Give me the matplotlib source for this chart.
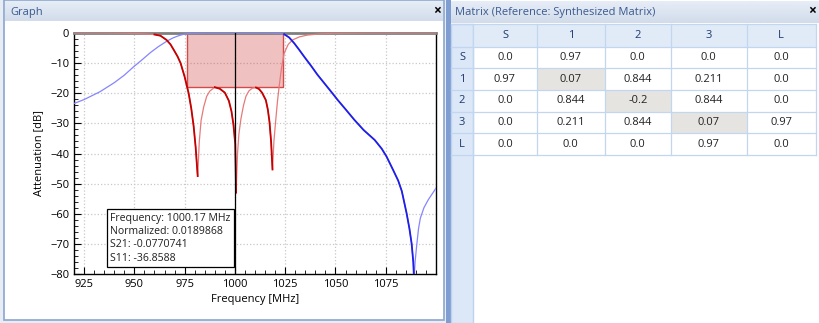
import numpy as np
import matplotlib
matplotlib.use("Agg")
import matplotlib.pyplot as plt
from matplotlib.patches import Rectangle
from matplotlib.ticker import MultipleLocator

plt.rcParams['font.family'] = ['Open Sans', 'DejaVu Sans']

# === data ===
s11_freq = [920, 935, 945, 952, 957, 960, 963, 966, 968, 969.6, 971.5, 973, 975, 977,
            978.3, 979.5, 980.5, 981.5, 982.3, 983.2, 984.5, 986, 987.5, 990, 992.5,
            995, 997, 998.3, 999.3, 1000.17, 1000.6, 1001.3, 1002, 1003, 1004.3, 1005.5,
            1007, 1008.7, 1010.5, 1012, 1013.5, 1015.4, 1016.4, 1017.2, 1018, 1018.7,
            1019.4, 1020.3, 1021.2, 1022, 1023.2, 1024.5, 1026.5, 1028.7, 1032, 1036,
            1042, 1050, 1065, 1100]
s11_db = [0, -0.02, -0.08, -0.2, -0.35, -0.5, -0.9, -2.3, -3.8, -5.6, -7.8, -10, -14.5, -20,
          -25, -31, -38, -47.5, -36, -29, -24.5, -21, -19.3, -18, -18.5,
          -19.8, -22.5, -26, -30.5, -36.86, -53, -40, -33.5, -28.5, -24, -21,
          -19.2, -18.3, -18.1, -18.6, -19.8, -22.3, -25.5, -29.5, -36, -45.3,
          -36, -29, -22.5, -17.8, -11.5, -6.7, -3.8, -2.3, -1.3, -0.7,
          -0.3, -0.12, -0.04, 0]

s21_freq = [920, 925, 932.9, 940, 945, 949.5, 954, 958, 962, 966.2, 969, 971.2, 973.5,
            975.4, 978, 985, 1000.17, 1015, 1022, 1024.5, 1027, 1029.5, 1032, 1034.5,
            1038, 1041, 1044.5, 1048, 1051.2, 1055, 1059.5, 1064, 1069.5, 1073, 1075.4,
            1078.7, 1081.2, 1083, 1085.4, 1086.8, 1087.9, 1088.7, 1089.1, 1089.6, 1090.4,
            1091.3, 1092.2, 1094, 1096.2, 1098.5, 1100.5]
s21_db = [-23.4, -22.1, -19.5, -16.5, -14, -11.3, -8.8, -6.5, -4.5, -2.7, -1.7, -1.1, -0.6,
          -0.3, -0.15, -0.08, -0.077, -0.08, -0.15, -0.4, -1.5, -3.4, -5.6, -7.9,
          -11, -13.8, -16.7, -19.6, -22.3, -25.3, -28.9, -32.2, -35.5, -38.4, -41,
          -45.5, -49, -52.5, -59.9, -65, -70, -76, -82, -76, -70.5,
          -65, -61.5, -58, -55.3, -53, -51]

mask_freq = [976, 1024]
mask_db = -18
cursor_freq = 1000.17
readout = ["Frequency: 1000.17 MHz", "Normalized: 0.0189868",
           "S21: -0.0770741", "S11: -36.8588"]

port_labels = ["S", "1", "2", "3", "L"]
coupling = [[0.0, 0.97, 0.0, 0.0, 0.0],
            [0.97, 0.07, 0.844, 0.211, 0.0],
            [0.0, 0.844, -0.2, 0.844, 0.0],
            [0.0, 0.211, 0.844, 0.07, 0.97],
            [0.0, 0.0, 0.0, 0.97, 0.0]]

W, H = 820, 323
fig = plt.figure(figsize=(W / 100, H / 100), dpi=100)
fig.patch.set_facecolor('#e8edf4')

# background canvas in pixel coords
bg = fig.add_axes([0, 0, 1, 1], zorder=0)
bg.set_xlim(0, W)
bg.set_ylim(H, 0)
bg.axis('off')

grad = np.linspace(0, 1, 20).reshape(-1, 1)
title_cmap = matplotlib.colors.LinearSegmentedColormap.from_list('t', ['#e6edf7', '#d2dcea'])

# === Graph panel ===
bg.add_patch(Rectangle((4, 0), 440, 320, facecolor='white', edgecolor='#8aa6d0', lw=1.2))
bg.imshow(grad, extent=(5, 443, 21, 1), cmap=title_cmap, aspect='auto', zorder=1)
bg.text(10, 12, "Graph", fontsize=8, color='#3b5a8f', va='center', zorder=2)
bg.text(437, 11, "×", fontsize=10, color='black', ha='center', va='center', fontweight='bold', zorder=2)

# === Matrix panel ===
bg.add_patch(Rectangle((447, 0), 373, 323, facecolor='white', edgecolor='none'))
bg.imshow(grad, extent=(449, 820, 23, 1), cmap=title_cmap, aspect='auto', zorder=1)
bg.text(455, 12, "Matrix (Reference: Synthesized Matrix)", fontsize=8, color='#3b5a8f',
        va='center', zorder=2)
bg.text(812, 11, "×", fontsize=10, color='black', ha='center', va='center', fontweight='bold', zorder=2)
bg.add_patch(Rectangle((446, 0), 5, 323, facecolor='#7f9dd0', edgecolor='none', zorder=2))
bg.add_patch(Rectangle((451, 24), 22, 299, facecolor='#dce8f8', edgecolor='#bcd2f2', lw=1, zorder=2))

col_edges = [473.3, 536.7, 605, 670.7, 746.7, 815.7]
row_edges = [24, 46.7, 68.3, 90, 111.7, 133.3, 155]
line_c = '#c3d6f0'

# header row
bg.add_patch(Rectangle((473.3, 24), 815.7 - 473.3, 22.7, facecolor='#e1ebf8', edgecolor='none', zorder=2))
for j, lab in enumerate(port_labels):
    xc = (col_edges[j] + col_edges[j + 1]) / 2
    bg.text(xc, 35.5, lab, fontsize=8, color='#1e3a6e', ha='center', va='center', zorder=4)
for i, lab in enumerate(port_labels):
    yc = (row_edges[i + 1] + row_edges[i + 2]) / 2
    bg.text(462, yc, lab, fontsize=8, color='#1e3a6e', ha='center', va='center', zorder=4)
    for j in range(len(port_labels)):
        x0, x1 = col_edges[j], col_edges[j + 1]
        if i == j and 0 < i < len(port_labels) - 1:
            bg.add_patch(Rectangle((x0, row_edges[i + 1]), x1 - x0, row_edges[i + 2] - row_edges[i + 1],
                                   facecolor='#e6e4e0', edgecolor='none', zorder=2))
        bg.text((x0 + x1) / 2, yc, str(coupling[i][j]), fontsize=8, color='#222222',
                ha='center', va='center', zorder=4)
for y in row_edges:
    bg.plot([451, 815.7], [y, y], color=line_c, lw=0.9, zorder=3)
for x in col_edges:
    bg.plot([x, x], [24, 155], color=line_c, lw=0.9, zorder=3)

# === response plot ===
ax = fig.add_axes([74 / W, 1 - 274 / H, 362 / W, 241 / H], zorder=5)
ax.set_xlim(920, 1100)
ax.set_ylim(-80, 0)

ax.add_patch(Rectangle((mask_freq[0], mask_db), mask_freq[1] - mask_freq[0], -mask_db,
                       facecolor=(0.8, 0.2, 0.2, 0.3), edgecolor='#d24a4a', lw=1, zorder=2))


def draw_trace(f, v, light, dark):
    f = np.asarray(f)
    v = np.asarray(v)
    ax.plot(f, v, color=light, lw=0.9, zorder=3)
    # descending stretches (off the 0 dB line) are drawn darker, as in the original
    down = (np.diff(v) < 0) & (v[1:] < -0.8)
    i = 0
    while i < len(down):
        if down[i]:
            j = i
            while j < len(down) and down[j]:
                j += 1
            ax.plot(f[i:j + 1], v[i:j + 1], color=dark, lw=1.3, zorder=4)
            i = j
        else:
            i += 1


draw_trace(s21_freq, s21_db, '#8585ff', '#1f1fe6')
draw_trace(s11_freq, s11_db, '#e67a7a', '#c40000')

ax.axvline(cursor_freq, color='black', lw=0.9, zorder=5)

ax.xaxis.set_major_locator(MultipleLocator(25))
ax.xaxis.set_minor_locator(MultipleLocator(5))
ax.yaxis.set_major_locator(MultipleLocator(10))
ax.yaxis.set_minor_locator(MultipleLocator(2))
ax.set_xticks([925, 950, 975, 1000, 1025, 1050, 1075])
ax.tick_params(which='both', direction='in', labelsize=8, color='black')
ax.tick_params(which='major', length=5)
ax.tick_params(which='minor', length=3)
ax.grid(True, which='major', linestyle=':', color='#c8c8c8', lw=0.9)
for s in ['left', 'bottom', 'right']:
    ax.spines[s].set_color('black')
    ax.spines[s].set_linewidth(1)
ax.spines['top'].set_color('#808080')
ax.spines['top'].set_linewidth(2)
ax.set_xlabel("Frequency [MHz]", fontsize=8, labelpad=3)
ax.set_ylabel("Attenuation [dB]", fontsize=8, labelpad=4)

ax.text(0.1, 0.255, "\n".join(readout), transform=ax.transAxes, fontsize=7.6,
        color='#202020', va='top', ha='left', linespacing=1.3, zorder=6,
        bbox=dict(boxstyle='square,pad=0.3', facecolor='white', edgecolor='black', lw=0.9))

fig.savefig("out.png", dpi=100)
